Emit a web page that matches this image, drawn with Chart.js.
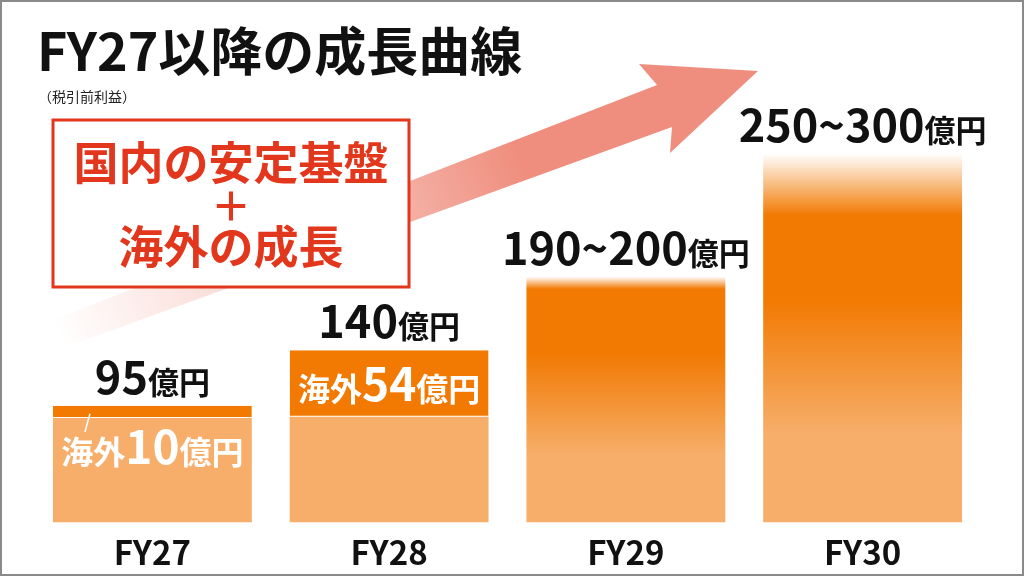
<!DOCTYPE html>
<html lang="ja">
<head>
<meta charset="utf-8">
<script src="https://cdn.jsdelivr.net/npm/chart.js@4"></script>
<style>
  html, body { margin: 0; padding: 0; background: #fff; }
  #graph-container { position: relative; width: 1024px; height: 576px; }
</style>
</head>
<body>
<div id="graph-container"><canvas id="graph" width="1024" height="576"></canvas></div>
<script>
style = {
  darkOrange: '#F27A03',
  lightOrange: '#F6AE6A',
  boxRed: '#E2371C',
  arrowPink: '239,142,126',
  frameGray: '#8a8a8a',
  text: '#111111',
  font: "'Noto Sans CJK JP', 'Noto Sans', sans-serif"
}

// chart data
const years = ['FY27', 'FY28', 'FY29', 'FY30'];
const domestic = [85, 86, null, null];
const overseas = [10, 54, null, null];
const outlookLow = [null, null, 190, 250];
const outlookHigh = [null, null, 200, 300];

const title = 'FY27以降の成長曲線';
const subtitle = '（税引前利益）';
const boxLines = ['国内の安定基盤', '＋', '海外の成長'];
const unit = '億円';

// mixed size text, centred on cx
const drawParts = (ctx, parts, cx, baseline, color) => {
  let total = 0;
  parts.forEach(p => {
    ctx.font = `bold ${p.size}px ${style.font}`;
    p.w = ctx.measureText(p.text).width;
    total += p.w;
  });
  let x = cx - total / 2;
  ctx.fillStyle = color;
  ctx.textAlign = 'left';
  ctx.textBaseline = 'alphabetic';
  parts.forEach(p => {
    ctx.font = `bold ${p.size}px ${style.font}`;
    ctx.fillText(p.text, x, baseline);
    x += p.w;
  });
};

// gradient for the outlook bars: fade in across the range, then lighten to the base
const outlookFill = (ctx) => {
  const chart = ctx.chart;
  const i = ctx.dataIndex;
  if (!chart.chartArea || outlookHigh[i] == null) return style.darkOrange;
  const y = chart.scales.y;
  const yHi = y.getPixelForValue(outlookHigh[i]);
  const yBase = y.getPixelForValue(0);
  const span = yBase - yHi;
  const f = (v) => Math.min(1, Math.max(0, (y.getPixelForValue(v) - yHi) / span));
  const g = chart.ctx.createLinearGradient(0, yHi, 0, yBase);
  g.addColorStop(0, 'rgba(242,122,3,0)');
  g.addColorStop(f(outlookLow[i]), style.darkOrange);
  g.addColorStop(f(outlookLow[i] * 0.72), style.darkOrange);
  g.addColorStop(f(outlookLow[i] * 0.29), style.lightOrange);
  g.addColorStop(1, style.lightOrange);
  return g;
};

// background pieces: frame, title, arrow, message box
const decor = {
  id: 'decor',
  beforeDraw: (chart) => {
    const ctx = chart.ctx;
    ctx.save();
    ctx.fillStyle = '#fff';
    ctx.fillRect(0, 0, chart.width, chart.height);
    ctx.strokeStyle = style.frameGray;
    ctx.lineWidth = 2;
    ctx.strokeRect(1, 1, chart.width - 2, chart.height - 2);

    ctx.fillStyle = style.text;
    ctx.textAlign = 'left';
    ctx.textBaseline = 'alphabetic';
    ctx.font = `bold 52px ${style.font}`;
    ctx.fillText(title, 37, 71);
    ctx.font = `14px ${style.font}`;
    ctx.fillStyle = '#222';
    ctx.fillText(subtitle, 38, 102);
    ctx.restore();
  },
  beforeDatasetsDraw: (chart) => {
    const ctx = chart.ctx;
    ctx.save();
    // arrow
    const g = ctx.createLinearGradient(60, 340, 700, 90);
    g.addColorStop(0, `rgba(${style.arrowPink},0)`);
    g.addColorStop(0.45, `rgba(${style.arrowPink},0.55)`);
    g.addColorStop(0.72, `rgba(${style.arrowPink},1)`);
    g.addColorStop(1, `rgba(${style.arrowPink},1)`);
    ctx.fillStyle = g;
    ctx.beginPath();
    ctx.moveTo(42, 324);
    ctx.lineTo(657, 85);
    ctx.lineTo(639, 64);
    ctx.lineTo(758, 71);
    ctx.lineTo(670, 153);
    ctx.lineTo(672, 127);
    ctx.lineTo(52, 352);
    ctx.closePath();
    ctx.fill();

    // message box
    ctx.fillStyle = '#fff';
    ctx.fillRect(53, 120, 356, 167);
    ctx.strokeStyle = style.boxRed;
    ctx.lineWidth = 3;
    ctx.strokeRect(53, 120, 356, 167);
    ctx.fillStyle = style.boxRed;
    ctx.textAlign = 'center';
    ctx.textBaseline = 'middle';
    ctx.font = `bold 45px ${style.font}`;
    ctx.fillText(boxLines[0], 231, 163);
    ctx.font = `bold 40px ${style.font}`;
    ctx.fillText(boxLines[1], 231, 206);
    ctx.font = `bold 45px ${style.font}`;
    ctx.fillText(boxLines[2], 231, 247);
    ctx.restore();
  },
  afterDatasetsDraw: (chart) => {
    const ctx = chart.ctx;
    ctx.save();
    years.forEach((yr, i) => {
      const top = outlookHigh[i] != null
        ? chart.getDatasetMeta(2).data[i]
        : chart.getDatasetMeta(1).data[i];
      const num = outlookHigh[i] != null
        ? `${outlookLow[i]}~${outlookHigh[i]}`
        : `${domestic[i] + overseas[i]}`;
      drawParts(ctx, [{ text: num, size: 45 }, { text: unit, size: 31 }], top.x, top.y - 12, style.text);

      // overseas share inside the bar
      if (overseas[i] != null) {
        const seg = chart.getDatasetMeta(1).data[i];
        const parts = [{ text: '海外', size: 32 }, { text: `${overseas[i]}`, size: 46 }, { text: unit, size: 32 }];
        const h = seg.base - seg.y;
        if (h > 40) {
          drawParts(ctx, parts, seg.x, seg.y + h / 2 + 17, '#fff');
        } else {
          const lx = seg.x - seg.width / 2 + 35;
          ctx.strokeStyle = '#fff';
          ctx.lineWidth = 1.5;
          ctx.beginPath();
          ctx.moveTo(lx + 2, seg.y + h / 2 + 2);
          ctx.lineTo(lx - 3, seg.base + 14);
          ctx.stroke();
          drawParts(ctx, parts, seg.x, seg.base + 46, '#fff');
        }
      }
    });
    ctx.restore();
  }
};

const data = {
  labels: years,
  datasets: [{
    label: '国内',
    data: domestic,
    backgroundColor: style.lightOrange
  }, {
    label: '海外',
    data: overseas,
    backgroundColor: style.darkOrange,
    borderColor: '#fff',
    borderWidth: { bottom: 1, top: 0, left: 0, right: 0 },
    borderSkipped: false
  }, {
    label: '見通し',
    data: outlookHigh,
    backgroundColor: outlookFill
  }]
};

const config = {
  type: 'bar',
  data,
  plugins: [decor],
  options: {
    responsive: false,
    animation: false,
    devicePixelRatio: 1,
    barPercentage: 0.84,
    categoryPercentage: 1,
    layout: {
      padding: { left: 34, right: 43, top: 80, bottom: 2 }
    },
    scales: {
      x: {
        stacked: true,
        grid: { display: false },
        border: { display: false },
        ticks: {
          color: style.text,
          padding: 2,
          font: { family: style.font, size: 33, weight: 'bold' }
        }
      },
      y: {
        stacked: true,
        display: false,
        min: 0,
        max: 360
      }
    },
    plugins: {
      legend: { display: false },
      tooltip: { enabled: false }
    }
  }
};

graph = new Chart(document.getElementById('graph'), config);
</script>
</body>
</html>
